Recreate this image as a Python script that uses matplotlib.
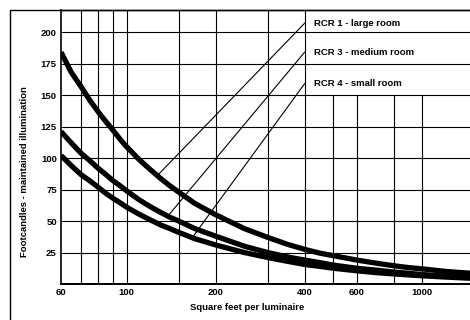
import matplotlib
matplotlib.use("Agg")
import matplotlib.pyplot as plt
from matplotlib.patches import Rectangle

plt.rcParams["font.family"] = ["Liberation Sans", "DejaVu Sans"]
plt.rcParams["font.weight"] = "bold"

# square feet per luminaire (x) and maintained footcandles
sqft = [60, 65, 70, 75, 80, 85, 90, 95, 100, 110, 120, 130, 140, 150, 170,
        200, 250, 300, 350, 400, 450, 500, 600, 700, 800, 900, 1000, 1200, 1500]
rcr1_large = [184, 168, 157, 146, 137, 129, 122, 115, 109, 99, 91, 84, 78, 73, 64,
              55, 44, 37, 31.5, 27.5, 24.5, 22.5, 19, 16.5, 14.5, 13, 12, 10, 8.3]
rcr3_medium = [121, 112, 104, 98, 92, 87, 82, 78, 74, 67, 61.5, 57, 53, 50, 44,
               38, 30, 25, 21.5, 19, 17, 15, 12.5, 11, 9.5, 8.5, 7.5, 6.3, 5.3]
rcr4_small = [102, 94, 87, 82, 77, 72, 68, 64.5, 61, 55.5, 51, 47, 44, 41, 36,
              31, 25, 21, 18, 15.5, 14, 12.5, 10.5, 9, 8, 7.2, 6.5, 5.5, 4.4]

x_gridlines = [70, 80, 90, 100, 150, 200, 300, 400, 500, 600, 800, 1000]
x_ticks = [60, 100, 200, 400, 600, 1000]
y_ticks = [25, 50, 75, 100, 125, 150, 175, 200]

# label text, where the leader starts on the 400 line, where it meets the curve
labels = ["RCR 1 - large room", "RCR 3 - medium room", "RCR 4 - small room"]
label_y = [207, 184, 159]
leader_end = [(127, 86), (138, 54), (167, 37)]

fig = plt.figure(figsize=(4.7, 3.2), dpi=100)
ax = fig.add_axes([61 / 470, 1 - 284 / 320, 1 - 61 / 470, (284 - 10) / 320])
ax.set_xscale("log")
ax.set_xlim(60, 1450)
ax.set_ylim(0, 217.5)

# outer frame around the whole figure
fig.patches.append(Rectangle((10 / 470, -0.1), 1.2, 1 - 10 / 320 + 0.1,
                             transform=fig.transFigure, fill=False,
                             edgecolor="black", linewidth=1.0))

# grid: the label panel (x > 400, y > 150) keeps only horizontal rules
for y in y_ticks:
    ax.axhline(y, color="black", lw=0.8, zorder=1)
for x in x_gridlines:
    top = 150 if x > 400 else 217.5
    ax.vlines(x, 0, top, color="black", lw=0.8, zorder=1)

for series in (rcr1_large, rcr3_medium, rcr4_small):
    ax.plot(sqft, series, color="black", lw=3.8, solid_capstyle="butt",
            solid_joinstyle="round", zorder=3)

for text, y, end in zip(labels, label_y, leader_end):
    ax.plot([400, end[0]], [y, end[1]], color="black", lw=0.8, zorder=2)
    ax.annotate(text, xy=(400, y), xytext=(7, 0), textcoords="offset points",
                va="center", ha="left", fontsize=6.8)

ax.set_xticks(x_ticks)
ax.set_xticklabels([str(v) for v in x_ticks])
ax.xaxis.set_minor_locator(matplotlib.ticker.NullLocator())
ax.set_yticks(y_ticks)
ax.tick_params(length=0, labelsize=6.8, pad=3)

for side in ["top", "right"]:
    ax.spines[side].set_visible(False)
ax.spines["left"].set_linewidth(1.2)
ax.spines["bottom"].set_linewidth(1.4)
ax.axhline(217.5, color="black", lw=1.0, clip_on=False)

fig.text(247 / 470, 1 - 308 / 320, "Square feet per luminaire", ha="center",
         va="center", fontsize=6.8)
fig.text(25 / 470, 1 - 172 / 320, "Footcandles - maintained illumination",
         ha="center", va="center", rotation=90, fontsize=6.8)

fig.savefig("out.png", dpi=100)
